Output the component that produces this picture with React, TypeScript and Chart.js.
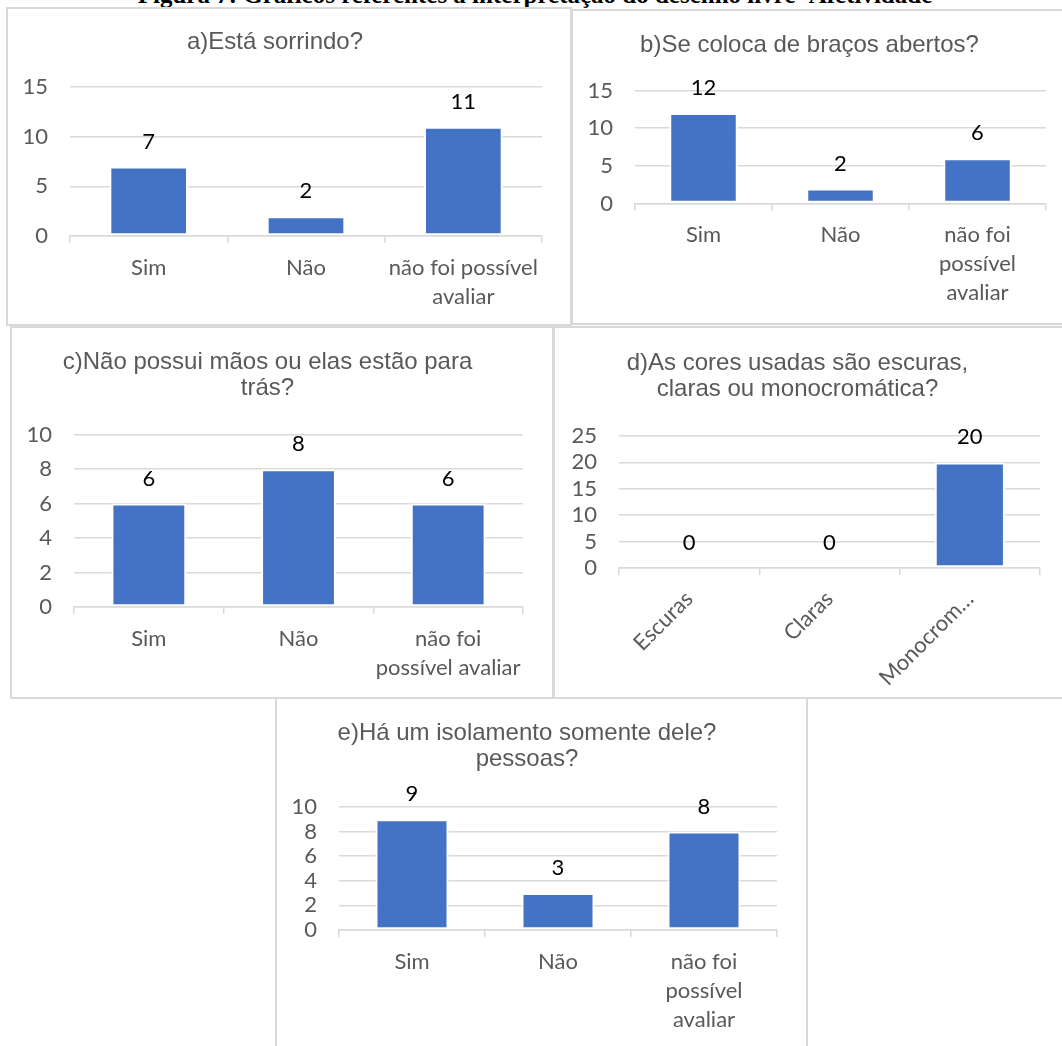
import React, { useEffect, useRef } from "react";
import { Chart, registerables } from "chart.js";

Chart.register(...registerables);

// ---------- data ----------
const caption = "Figura 7: Gráficos referentes à interpretação do desenho livre- Afetividade";

const categoriesYesNo = ["Sim", "Não", "não foi possível avaliar"];
const categoriesColors = ["Escuras", "Claras", "Monocromática"];

const titleA = ["a)Está sorrindo?"];
const valuesA = [7, 2, 11];
const tickLabelsA = [["Sim"], ["Não"], ["não foi possível", "avaliar"]];
const yTicksA = [0, 5, 10, 15];

const titleB = ["b)Se coloca de braços abertos?"];
const valuesB = [12, 2, 6];
const tickLabelsB = [["Sim"], ["Não"], ["não foi", "possível", "avaliar"]];
const yTicksB = [0, 5, 10, 15];

const titleC = ["c)Não possui mãos ou elas estão para", "trás?"];
const valuesC = [6, 8, 6];
const tickLabelsC = [["Sim"], ["Não"], ["não foi", "possível avaliar"]];
const yTicksC = [0, 2, 4, 6, 8, 10];

const titleD = ["d)As cores usadas são escuras,", "claras ou monocromática?"];
const valuesD = [0, 0, 20];
const tickLabelsD = ["Escuras", "Claras", "Monocrom…"];
const yTicksD = [0, 5, 10, 15, 20, 25];

const titleE = ["e)Há um isolamento somente dele?", "pessoas?"];
const valuesE = [9, 3, 8];
const tickLabelsE = [["Sim"], ["Não"], ["não foi", "possível", "avaliar"]];
const yTicksE = [0, 2, 4, 6, 8, 10];

// ---------- styles ----------
const BAR = "#4472C4";
const GRID = "#d9d9d9";
const TEXT = "#595959";
const TITLE_SIZE = 24;
const TITLE_LH = 1.1;
const TICK_SIZE = 22;
const TICK_LH = 29 / 22;
const VALUE_SIZE = 22;

type Rect = { left: number; top: number; width: number; height: number };
type Spec = {
  panel: Rect;
  canvas: Rect;
  plot: { left: number; right: number; top: number; bottom: number };
  titleY: number;
  title: string[];
  labels: string[];
  tickLabels: (string | string[])[];
  values: number[];
  yTicks: number[];
  rotate: number;
};

const valueLabels = {
  id: "valueLabels",
  afterDatasetsDraw(chart: any) {
    const ctx = chart.ctx;
    const meta = chart.getDatasetMeta(0);
    const data = chart.data.datasets[0].data as number[];
    ctx.save();
    ctx.font = `${VALUE_SIZE}px Lato`;
    ctx.fillStyle = "#000000";
    ctx.textAlign = "center";
    ctx.textBaseline = "middle";
    meta.data.forEach((bar: any, i: number) => {
      ctx.fillText(String(data[i]), bar.x, bar.y - 25);
    });
    ctx.restore();
  },
};

function ChartPanel({ spec }: { spec: Spec }) {
  const ref = useRef<HTMLCanvasElement | null>(null);
  useEffect(() => {
    if (!ref.current) return;
    const s = spec;
    const LH = TITLE_SIZE * TITLE_LH;
    const padTop = s.titleY - s.canvas.top - LH / 2;
    const padBottom = s.plot.top - s.canvas.top - padTop - s.title.length * LH;
    const yw = s.plot.left - s.canvas.left;
    const xh = s.canvas.top + s.canvas.height - s.plot.bottom;
    const padRight = s.canvas.left + s.canvas.width - s.plot.right;
    const yMax = s.yTicks[s.yTicks.length - 1];
    const yStep = s.yTicks[1] - s.yTicks[0];
    const chart = new Chart(ref.current, {
      type: "bar",
      data: {
        labels: s.labels,
        datasets: [
          {
            data: s.values,
            backgroundColor: BAR,
            borderColor: "#ffffff",
            borderWidth: 2,
            borderSkipped: false,
            barPercentage: 0.5,
            categoryPercentage: 1,
          },
        ],
      },
      options: {
        animation: false,
        responsive: false,
        devicePixelRatio: 1,
        layout: { padding: { left: 0, right: padRight, top: 0, bottom: 0 } },
        plugins: {
          legend: { display: false },
          tooltip: { enabled: false },
          title: {
            display: true,
            text: s.title,
            color: TEXT,
            font: { family: "'Liberation Sans', Arial, sans-serif", size: TITLE_SIZE, weight: "normal", lineHeight: TITLE_LH },
            padding: { top: padTop, bottom: padBottom },
          },
        },
        scales: {
          x: {
            z: 1,
            offset: true,
            grid: {
              display: true,
              offset: true,
              drawOnChartArea: false,
              drawTicks: true,
              tickLength: 7,
              color: GRID,
              lineWidth: 1.5,
            },
            border: { display: true, color: GRID, width: 1.5 },
            ticks: {
              autoSkip: false,
              minRotation: s.rotate,
              maxRotation: s.rotate,
              padding: 10,
              color: TEXT,
              font: { family: "Lato, sans-serif", size: TICK_SIZE, lineHeight: TICK_LH },
              callback: (_v: any, i: number) => s.tickLabels[i],
            },
            afterFit: (scale: any) => {
              scale.height = xh;
            },
          },
          y: {
            min: 0,
            max: yMax,
            grid: { color: GRID, lineWidth: 1.5, drawTicks: false },
            border: { display: false },
            ticks: {
              autoSkip: false,
              stepSize: yStep,
              padding: 22,
              color: TEXT,
              font: { family: "Lato, sans-serif", size: TICK_SIZE, lineHeight: 1 },
            },
            afterFit: (scale: any) => {
              scale.width = yw;
            },
          },
        },
      },
      plugins: [valueLabels],
    } as any);
    return () => chart.destroy();
  }, [spec]);

  const p = spec.panel;
  const c = spec.canvas;
  return (
    <>
      <div
        style={{
          position: "absolute",
          left: p.left,
          top: p.top,
          width: p.width,
          height: p.height,
          border: `2px solid ${GRID}`,
          boxSizing: "border-box",
          background: "#fff",
        }}
      />
      <canvas
        ref={ref}
        width={c.width}
        height={c.height}
        style={{ position: "absolute", left: c.left, top: c.top, width: c.width, height: c.height, display: "block" }}
      />
    </>
  );
}

const specs: Spec[] = [
  {
    panel: { left: 6, top: 7, width: 566, height: 319 },
    canvas: { left: 8, top: 9, width: 562, height: 315 },
    plot: { left: 70, right: 542, top: 87, bottom: 236 },
    titleY: 42,
    title: titleA,
    labels: categoriesYesNo,
    tickLabels: tickLabelsA,
    values: valuesA,
    yTicks: yTicksA,
    rotate: 0,
  },
  {
    panel: { left: 571, top: 9, width: 500, height: 316 },
    canvas: { left: 573, top: 11, width: 496, height: 312 },
    plot: { left: 635, right: 1046, top: 90.5, bottom: 203.5 },
    titleY: 45,
    title: titleB,
    labels: categoriesYesNo,
    tickLabels: tickLabelsB,
    values: valuesB,
    yTicks: yTicksB,
    rotate: 0,
  },
  {
    panel: { left: 10, top: 326, width: 544, height: 373 },
    canvas: { left: 12, top: 328, width: 540, height: 369 },
    plot: { left: 74, right: 523, top: 434.7, bottom: 607 },
    titleY: 362,
    title: titleC,
    labels: categoriesYesNo,
    tickLabels: tickLabelsC,
    values: valuesC,
    yTicks: yTicksC,
    rotate: 0,
  },
  {
    panel: { left: 553, top: 326, width: 516, height: 373 },
    canvas: { left: 555, top: 328, width: 512, height: 369 },
    plot: { left: 619, right: 1040, top: 436, bottom: 568 },
    titleY: 363,
    title: titleD,
    labels: categoriesColors,
    tickLabels: tickLabelsD,
    values: valuesD,
    yTicks: yTicksD,
    rotate: 45,
  },
  {
    panel: { left: 275, top: 697, width: 533, height: 370 },
    canvas: { left: 277, top: 699, width: 529, height: 347 },
    plot: { left: 339, right: 777, top: 807, bottom: 930 },
    titleY: 733,
    title: titleE,
    labels: categoriesYesNo,
    tickLabels: tickLabelsE,
    values: valuesE,
    yTicks: yTicksE,
    rotate: 0,
  },
];

export default function App() {
  return (
    <div
      style={{
        position: "absolute",
        left: 0,
        top: 0,
        width: 1062,
        height: 1046,
        overflow: "hidden",
        background: "#ffffff",
      }}
    >
      <div
        style={{
          position: "absolute",
          left: 0,
          width: 1070,
          top: -18,
          textAlign: "center",
          fontFamily: "'Liberation Serif', 'Times New Roman', serif",
          fontSize: 25,
          fontWeight: "bold",
          lineHeight: "25px",
          color: "#000",
          whiteSpace: "nowrap",
        }}
      >
        {caption}
      </div>
      {specs.map((s, i) => (
        <ChartPanel key={i} spec={s} />
      ))}
    </div>
  );
}
